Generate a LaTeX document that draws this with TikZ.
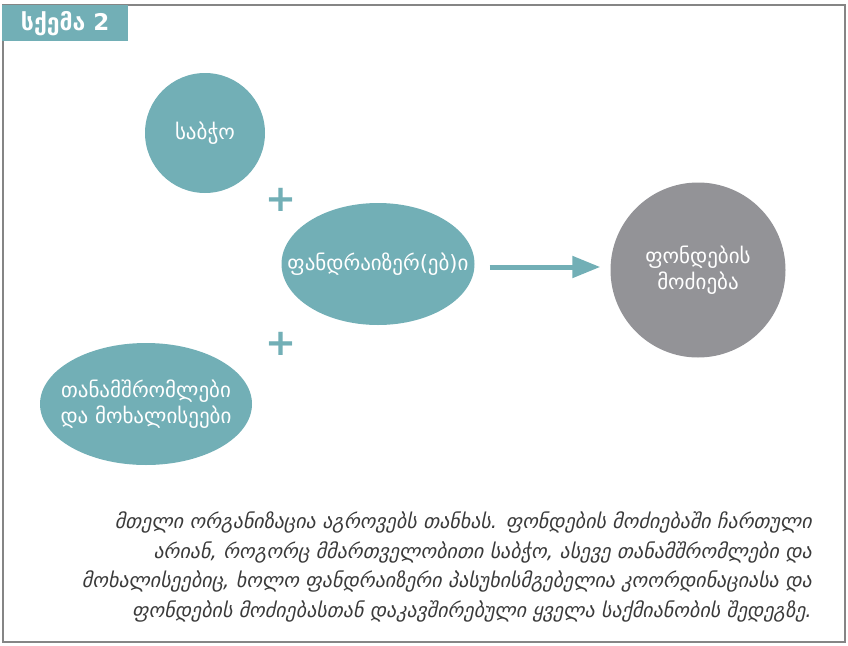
\documentclass[tikz,border=0pt]{standalone}
\usepackage{fontspec}
\setmainfont{DejaVu Sans}
\usetikzlibrary{arrows.meta,shapes.geometric,positioning}
\definecolor{schemeteal}{HTML}{72AFB6}
\definecolor{searchgray}{HTML}{939397}
\definecolor{framegray}{HTML}{858585}
\definecolor{notegray}{HTML}{3A3A3A}

\begin{document}
\begin{tikzpicture}[x=1pt, y=-1pt,
    bubble/.style={fill=schemeteal, inner sep=0pt},
    bubbletext/.style={text=white, inner sep=0pt, align=center, font=\fontsize{21}{26}\selectfont},
    plus/.style={text=schemeteal, inner sep=0pt, font=\fontsize{37}{37}\selectfont\bfseries},
    flow/.style={-{Triangle[length=28pt, width=21pt]}, line width=5pt, schemeteal}]
        \useasboundingbox (0,0) rectangle (848,645);
        \draw[framegray, line width=1.3pt] (3,5) rectangle (845,642);
        \node[fill=schemeteal, text=white, anchor=north west, minimum width=126, minimum height=36, inner sep=0pt, font=\fontsize{23}{23}\selectfont\bfseries] (title) at (2,5) {სქემა 2};

        \node[bubble, circle, minimum size=120, label={[bubbletext]center:საბჭო}] (board) at (205,133) {};
        \node[bubble, ellipse, minimum width=193, minimum height=122, label={[bubbletext]center:ფანდრაიზერ(ებ)ი}] (fundraiser) at (378,264) {};
        \node[bubble, ellipse, minimum width=212, minimum height=122, label={[bubbletext]center:თანამშრომლები\\და მოხალისეები}] (staff) at (146,404) {};
        \node[bubble, circle, fill=searchgray, minimum size=175, label={[bubbletext]center:ფონდების\\მოძიება}] (search) at (698,270) {};

        \node[plus] (plusa) at (281,200) {+};
        \node[plus] (plusb) at (281,344) {+};

        \draw[flow, shorten <=15pt, shorten >=10pt] ([yshift=-3pt]fundraiser.east) -- ([yshift=-3pt]fundraiser.east -| search.west);

        \node[anchor=north east, align=right, text=notegray, inner sep=0pt, font=\fontsize{20}{29.5}\selectfont\itshape] (note) at (812,512) {მთელი ორგანიზაცია აგროვებს თანხას. ფონდების მოძიებაში ჩართული\\არიან, როგორც მმართველობითი საბჭო, ასევე თანამშრომლები და\\მოხალისეებიც, ხოლო ფანდრაიზერი პასუხისმგებელია კოორდინაციასა და\\ფონდების მოძიებასთან დაკავშირებული ყველა საქმიანობის შედეგზე.};
\end{tikzpicture}
\end{document}
